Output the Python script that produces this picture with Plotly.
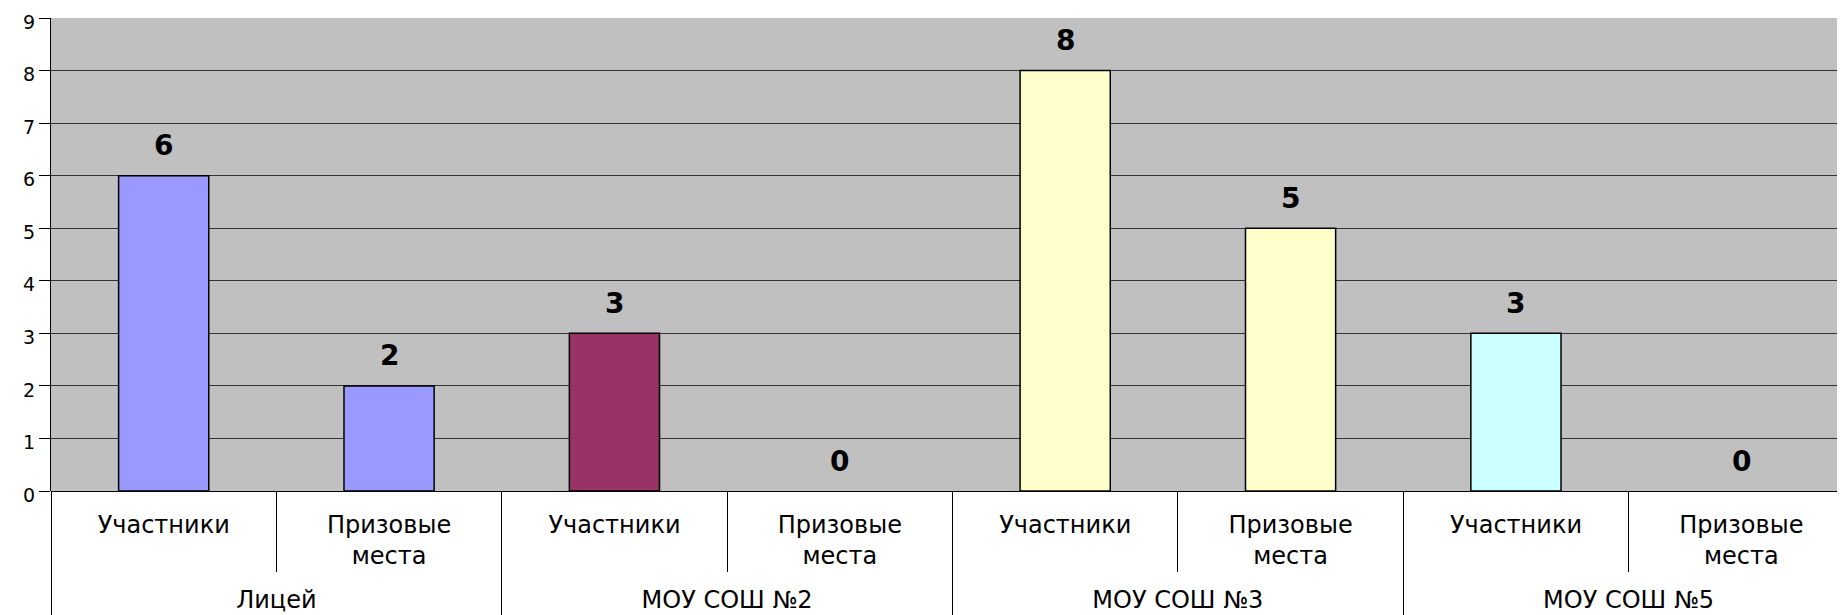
import plotly.graph_objects as go

groups = ["Лицей", "МОУ СОШ №2", "МОУ СОШ №3", "МОУ СОШ №5"]
subcats = ["Участники", "Призовые<br>места"]
participants = [6, 3, 8, 3]
prizes = [2, 0, 5, 0]
group_colors = ["#9999FF", "#993366", "#FFFFCC", "#CCFFFF"]

outer = ["<br>" + g for g in groups for _ in subcats]
inner = [s for _ in groups for s in subcats]
values = []
colors = []
for p, z, c in zip(participants, prizes, group_colors):
    values += [p, z]
    colors += [c, c]
line_widths = [1.5 if v > 0 else 0 for v in values]

fig = go.Figure()
fig.add_trace(go.Bar(
    x=[outer, inner], y=values, width=0.4,
    marker=dict(color=colors, line=dict(color="black", width=line_widths)),
    showlegend=False, hoverinfo="skip",
))

for i, v in enumerate(values):
    fig.add_annotation(x=i, y=v, xref="x", yref="y", text=str(v), showarrow=False,
                       yanchor="middle", yshift=30,
                       font=dict(family="DejaVu Sans", size=28, color="black", weight="bold"))

fig.update_layout(
    width=1846, height=615,
    margin=dict(l=43, r=0, t=10, b=132),
    paper_bgcolor="white", plot_bgcolor="#C0C0C0",
    font=dict(family="Liberation Sans", color="black"),
    bargap=0.6,
)
fig.update_xaxes(
    type="multicategory", range=[-0.5, 7.5], automargin=False,
    tickson="boundaries", ticks="outside", ticklen=80, tickcolor="black", tickwidth=1,
    showdividers=True, dividercolor="black", dividerwidth=1,
    ticklabelstandoff=17,
    tickfont=dict(family="DejaVu Sans", size=24, color="black"),
    showgrid=False, showline=False,
)
fig.update_yaxes(
    range=[0, 9], dtick=1, ticks="outside", ticklen=11, tickcolor="black", automargin=False,
    ticklabeloverflow="allow", ticklabelshift=4,
    showgrid=True, gridcolor="#333333", gridwidth=1,
    zeroline=True, zerolinecolor="black", zerolinewidth=1,
    showline=True, linecolor="black", linewidth=1,
    tickfont=dict(family="DejaVu Sans", size=19, color="black"),
)

fig.write_html("out.html")
